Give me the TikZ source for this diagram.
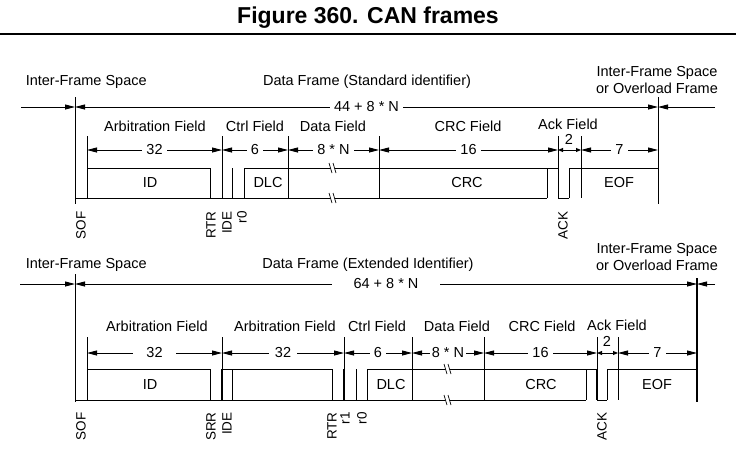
\documentclass[tikz,border=0pt]{standalone}
\usepackage{fontspec}
\setmainfont{Liberation Sans}
\usetikzlibrary{arrows.meta}
\newcommand{\txtsize}{\fontsize{14.5}{17}\selectfont}
\newcommand{\bitsize}{\fontsize{13.5}{16}\selectfont}

\begin{document}
\begin{tikzpicture}[
    x=1pt, y=-1pt,
    >={Triangle[length=10pt,width=5pt]},
    line width=0.9pt,
    font=\txtsize,
    dimlab/.style ={fill=white, inner xsep=4pt, inner ysep=1pt},
    dimsmall/.style={>={Triangle[length=5pt,width=4pt]}},
    tight/.style   ={inner sep=0pt},
    bitname/.style ={rotate=90, anchor=east, inner sep=0pt, font=\bitsize},
    heavy/.style   ={line width=1.6pt},
    gapmark/.pic={
      \fill[white] (-4,-5) -- (-1,5) -- (3,5) -- (0,-5) -- cycle;
      \draw[line width=0.7pt] (-4,-5) -- (-1,5) (0,-5) -- (3,5);
    },
]
\useasboundingbox (0,0) rectangle (736,450);

% ---- Title ----
\node[font=\fontsize{23}{27}\selectfont\bfseries] (title) at (368,18) {Figure 360. CAN frames};
\coordinate (rulel) at (0,34);
\coordinate (ruler) at (736,34);
\draw[line width=1.3pt] (rulel) -- (ruler);

% ---- Standard frame: headings ----
\node[anchor=west] (ifs1) at (22,82) {Inter-Frame Space};
\node (df1) at (367,82) {Data Frame (Standard identifier)};
\node[align=center] (ovl1) at (657,80) {Inter-Frame Space\\or Overload Frame};

\coordinate (f1lft) at (21,107);
\coordinate (f1sof) at (75,107);
\coordinate (f1end) at (658,107);
\coordinate (f1rgt) at (715,107);
\draw[->] (f1lft) -- (f1sof);
\draw[<->] (f1sof) -- node[dimlab] (len1) {44 + 8 * N} (f1end);
\draw[->] (f1rgt) -- (f1end);

\node (arb1) at (155,126) {Arbitration Field};
\node (ctl1) at (255,126) {Ctrl Field};
\node (dat1) at (333,126) {Data Field};
\node (crc1) at (468,126) {CRC Field};
\node[tight] (ack1) at (568,124) {Ack Field};

% ---- Standard frame: field lengths ----
\coordinate (s1id)  at (87,150);
\coordinate (s1arb) at (222,150);
\coordinate (s1ctl) at (288,150);
\coordinate (s1dat) at (379,150);
\coordinate (s1crc) at (558,150);
\coordinate (s1ack) at (581,150);
\coordinate (s1eof) at (658,150);
\draw[<->] (s1id)  -- node[dimlab] (n1arb) {32} (s1arb);
\draw[<->] (s1arb) -- node[dimlab] (n1ctl) {6} (s1ctl);
\draw[<->] (s1ctl) -- node[dimlab] (n1dat) {8 * N} (s1dat);
\draw[<->] (s1dat) -- node[dimlab] (n1crc) {16} (s1crc);
\draw[dimsmall, <->] (s1crc) -- (s1ack);
\node[tight] (n1ack) at (569,139) {2};
\draw[<->] (s1ack) -- node[dimlab] (n1eof) {7} (s1eof);

% ---- Standard frame: bit levels ----
\draw (75,97) -- (75,204);
\draw (658,97) -- (658,204);
\foreach \x in {87,222,288,379,558,581} \draw (\x,136) -- (\x,198);
\foreach \x in {210,232,244,547,569} \draw (\x,168) -- (\x,198);
\draw (75,198) -- (547,198) (558,198) -- (569,198);
\draw (87,168) -- (210,168) (244,168) -- (558,168) (569,168) -- (658,168);
\pic at (333,168) {gapmark};
\pic at (333,198) {gapmark};

\node (id1)  at (150,183) {ID};
\node (dlc1) at (268,183) {DLC};
\node (crcb1) at (467,183) {CRC};
\node (eof1) at (619,183) {EOF};

\node[bitname] (sof1) at (81,211) {SOF};
\node[bitname] (rtr1) at (211,211) {RTR};
\node[bitname] (ide1) at (227,211) {IDE};
\node[bitname] (rz1)  at (242,211) {r0};
\node[bitname] (ackb1) at (563,211) {ACK};

% ---- Extended frame: headings ----
\node[anchor=west] (ifs2) at (22,265) {Inter-Frame Space};
\node (df2) at (368,265) {Data Frame (Extended Identifier)};
\node[align=center] (ovl2) at (657,257) {Inter-Frame Space\\or Overload Frame};

\coordinate (f2lft) at (20,284);
\coordinate (f2sof) at (75,284);
\coordinate (f2end) at (697,284);
\coordinate (f2rgt) at (715,284);
\draw[->] (f2lft) -- (f2sof);
\draw[<->] (f2sof) -- node[dimlab, inner xsep=22pt] (len2) {64 + 8 * N} (f2end);
\draw[->] (f2rgt) -- (f2end);

\node (arb2)  at (157,326) {Arbitration Field};
\node (arb2b) at (285,326) {Arbitration Field};
\node (ctl2)  at (377,326) {Ctrl Field};
\node (dat2)  at (457,326) {Data Field};
\node (crc2)  at (542,326) {CRC Field};
\node[tight] (ack2) at (617,325) {Ack Field};

% ---- Extended frame: field lengths ----
\coordinate (s2id)   at (87,353);
\coordinate (s2arb)  at (222,353);
\coordinate (s2arbb) at (344,353);
\coordinate (s2ctl)  at (412,353);
\coordinate (s2dat)  at (484,353);
\coordinate (s2crc)  at (597,353);
\coordinate (s2ack)  at (618,353);
\coordinate (s2eof)  at (697,353);
\draw[<->] (s2id)   -- node[dimlab, inner xsep=13pt] (n2arb) {32} (s2arb);
\draw[<->] (s2arb)  -- node[dimlab, inner xsep=6pt] (n2arbb) {32} (s2arbb);
\draw[<->] (s2arbb) -- node[dimlab] (n2ctl) {6} (s2ctl);
\draw[<->] (s2ctl)  -- node[dimlab, inner xsep=2pt] (n2dat) {8 * N} (s2dat);
\draw[<->] (s2dat)  -- node[dimlab] (n2crc) {16} (s2crc);
\draw[dimsmall, <->] (s2crc) -- (s2ack);
\node[tight] (n2ack) at (607,341) {2};
\draw[<->] (s2ack)  -- node[dimlab] (n2eof) {7} (s2eof);

% ---- Extended frame: bit levels ----
\draw (75,274) -- (75,402);
\draw[heavy] (697,278) -- (697,402);
\foreach \x in {87,412,484,618} \draw (\x,337) -- (\x,400);
\foreach \x in {222,344,597} {
  \draw (\x,337) -- (\x,369);
  \draw[heavy] (\x,369) -- (\x,400);
}
\foreach \x in {210,232,332,356,367,586,607} \draw (\x,369) -- (\x,400);
\draw (75,400) -- (586,400) (597,400) -- (607,400);
\draw (87,369) -- (210,369) (222,369) -- (332,369) (367,369) -- (597,369) (607,369) -- (697,369);
\pic at (448,369) {gapmark};
\pic at (448,400) {gapmark};

\node (id2)  at (150,385) {ID};
\node (dlc2) at (391,385) {DLC};
\node (crcb2) at (541,385) {CRC};
\node (eof2) at (657,385) {EOF};

\node[bitname] (sof2) at (81,412) {SOF};
\node[bitname] (srr2) at (211,412) {SRR};
\node[bitname] (ide2) at (227,412) {IDE};
\node[bitname] (rtr2) at (332,412) {RTR};
\node[bitname] (ro2)  at (345,412) {r1};
\node[bitname] (rz2)  at (362,412) {r0};
\node[bitname] (ackb2) at (602,412) {ACK};

\end{tikzpicture}
\end{document}
